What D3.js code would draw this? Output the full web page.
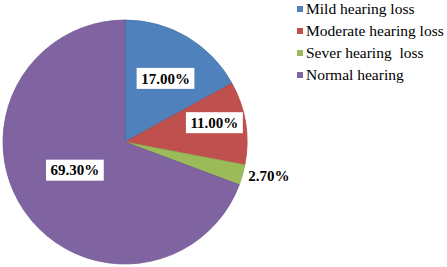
<!DOCTYPE html>
<html>
<head>
<meta charset="utf-8">
<script src="https://cdn.jsdelivr.net/npm/d3@7"></script>
<style>
  body { margin: 0; background: #fff; }
  svg { display: block; }
  text { font-family: 'Liberation Serif', 'Times New Roman', 'DejaVu Serif', serif; }
</style>
</head>
<body>
<div class="pie-chart"></div>
<script>
const categories = ['Mild hearing loss', 'Moderate hearing loss', 'Sever hearing  loss', 'Normal hearing'];
const values = [17.0, 11.0, 2.7, 69.3];
const labels = ['17.00%', '11.00%', '2.70%', '69.30%'];
const colors = ['#4F81BD', '#C0504D', '#9BBB59', '#8064A2'];

// label layout: radius factor and pixel nudge per slice
const labelLayout = [
  {k: 0.62, dx: 2, dy: 1.5, box: true},
  {k: 0.75, dx: -1, dy: -5, box: true},
  {k: 1.2, dx: 3, dy: -6, box: false},
  {k: 0.47, dx: -3, dy: -4.5, box: true}
];

const width = 447, height = 267;
const cx = 125, cy = 142, radius = 122;

const svg = d3.select('.pie-chart').append('svg')
  .attr('width', width).attr('height', height);

const data = categories.map((c, i) => ({name: c, value: values[i], label: labels[i], color: colors[i]}));

const pie = d3.pie().value(d => d.value).sort(null);
const arcs = pie(data);
const arc = d3.arc().innerRadius(0).outerRadius(radius);

const g = svg.append('g').attr('transform', `translate(${cx},${cy})`);

g.selectAll('path').data(arcs)
  .join('path')
  .attr('d', arc)
  .attr('fill', d => d.data.color)
  .attr('stroke', d => d3.color(d.data.color).darker(0.3))
  .attr('stroke-width', 0.8);

const lab = g.selectAll('g.lab').data(arcs)
  .join('g')
  .attr('class', 'lab')
  .attr('transform', (d, i) => {
    const L = labelLayout[i];
    const a = (d.startAngle + d.endAngle) / 2;
    const r = radius * L.k;
    return `translate(${r * Math.sin(a) + L.dx},${-r * Math.cos(a) + L.dy})`;
  });

lab.append('text')
  .attr('text-anchor', 'middle')
  .attr('dy', '0.35em')
  .attr('font-weight', 'bold')
  .attr('font-size', 15)
  .attr('fill', '#000')
  .text(d => d.data.label);

lab.each(function(d, i) {
  if (!labelLayout[i].box) return;
  const sel = d3.select(this);
  const bb = sel.select('text').node().getBBox();
  sel.insert('rect', 'text')
    .attr('x', bb.x - 4.5).attr('y', -10.5)
    .attr('width', bb.width + 9).attr('height', 21)
    .attr('fill', '#fff');
});

const legend = svg.append('g').attr('transform', 'translate(297,0)');
const rows = legend.selectAll('g').data(data)
  .join('g')
  .attr('transform', (d, i) => `translate(0,${9 + i * 22})`);

rows.append('rect')
  .attr('x', 0).attr('y', -3).attr('width', 6).attr('height', 6)
  .attr('fill', d => d.color);

rows.append('text')
  .attr('x', 9)
  .attr('dy', '0.33em')
  .attr('font-size', 15.5)
  .attr('fill', '#000')
  .style('white-space', 'pre')
  .text(d => d.name);
</script>
</body>
</html>
